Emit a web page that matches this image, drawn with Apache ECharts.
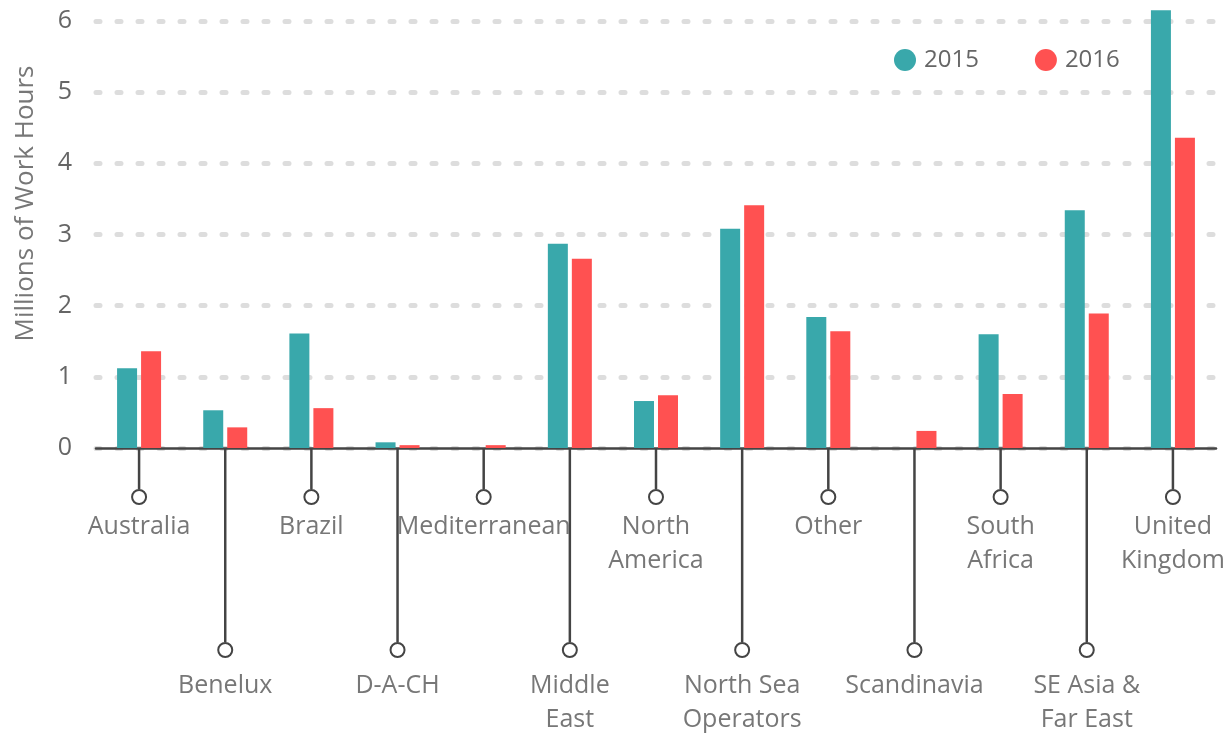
<!DOCTYPE html>
<html>
<head>
<meta charset="utf-8">
<script src="https://cdn.jsdelivr.net/npm/echarts@6/dist/echarts.min.js"></script>
<style>
  html, body { margin: 0; padding: 0; background: #fff; }
  #chart { width: 1230px; height: 738px; }
</style>
</head>
<body>
<div id="chart"></div>
<script>
const categories = ['Australia', 'Benelux', 'Brazil', 'D-A-CH', 'Mediterranean', 'Middle\nEast', 'North\nAmerica',
  'North Sea\nOperators', 'Other', 'Scandinavia', 'South\nAfrica', 'SE Asia &\nFar East', 'United\nKingdom']
const values2015 = [1.12, 0.53, 1.61, 0.08, 0, 2.87, 0.66, 3.08, 1.84, 0, 1.60, 3.34, 6.15]
const values2016 = [1.36, 0.29, 0.56, 0.04, 0.04, 2.66, 0.74, 3.41, 1.64, 0.24, 0.76, 1.89, 4.36]
const yTicks = { min: 0, max: 6, interval: 1 }

const font = 'Open Sans'
const dark = '#444'

const chart = echarts.init(document.getElementById('chart'))

const option = {
  animation: false,
  textStyle: { fontFamily: font },
  legend: {
    data: ['2015', '2016'],
    left: 889,
    top: 43,
    icon: 'circle',
    itemWidth: 22,
    itemHeight: 22,
    itemGap: 56,
    textStyle: { fontSize: 24, color: '#666', fontFamily: font, padding: [0, 0, 0, 3] }
  },
  grid: { left: 96, right: 14, top: 21, bottom: 290, containLabel: false },
  xAxis: {
    type: 'category',
    data: categories,
    axisLine: { lineStyle: { color: dark, width: 2.5 } },
    axisTick: { show: false },
    axisLabel: { show: false },
    splitLine: { show: false }
  },
  yAxis: {
    type: 'value',
    min: yTicks.min,
    max: yTicks.max,
    interval: yTicks.interval,
    name: 'Millions of Work Hours',
    nameLocation: 'middle',
    nameGap: 57,
    nameTextStyle: { fontSize: 26, color: '#777', fontFamily: font, padding: [0, 0, 0, 62] },
    axisLine: { show: false },
    axisTick: { show: false },
    axisLabel: { fontSize: 25, color: '#666', margin: 24, fontFamily: font },
    splitLine: { lineStyle: { color: '#ddd', width: 5, type: [4, 17], cap: 'round' } }
  },
  series: [
    {
      name: '2015',
      type: 'bar',
      data: values2015,
      barWidth: 20,
      barGap: '20%',
      clip: false,
      itemStyle: { color: '#39A8AB' }
    },
    {
      name: '2016',
      type: 'bar',
      data: values2016,
      barWidth: 20,
      clip: false,
      itemStyle: { color: '#FF5151' }
    },
    {
      // category labels hanging from the axis on stems
      type: 'custom',
      clip: false,
      silent: true,
      data: categories.map((c, i) => [i, 0]),
      renderItem: (params, api) => {
        const i = api.value(0)
        const p = api.coord([i, 0])
        const low = i % 2 === 1
        const stem = low ? 202 : 49
        const textTop = low ? 221 : 62
        return {
          type: 'group',
          children: [
            {
              type: 'line',
              shape: { x1: p[0], y1: p[1], x2: p[0], y2: p[1] + stem - 8 },
              style: { stroke: dark, lineWidth: 2.5 }
            },
            {
              type: 'circle',
              shape: { cx: p[0], cy: p[1] + stem, r: 7 },
              style: { fill: '#fff', stroke: dark, lineWidth: 2 }
            },
            {
              type: 'text',
              style: {
                text: categories[i],
                x: p[0],
                y: p[1] + textTop,
                align: 'center',
                verticalAlign: 'top',
                fontSize: 25,
                fontFamily: font,
                lineHeight: 34,
                fill: '#777'
              }
            }
          ]
        }
      }
    }
  ]
}

chart.setOption(option)
</script>
</body>
</html>
